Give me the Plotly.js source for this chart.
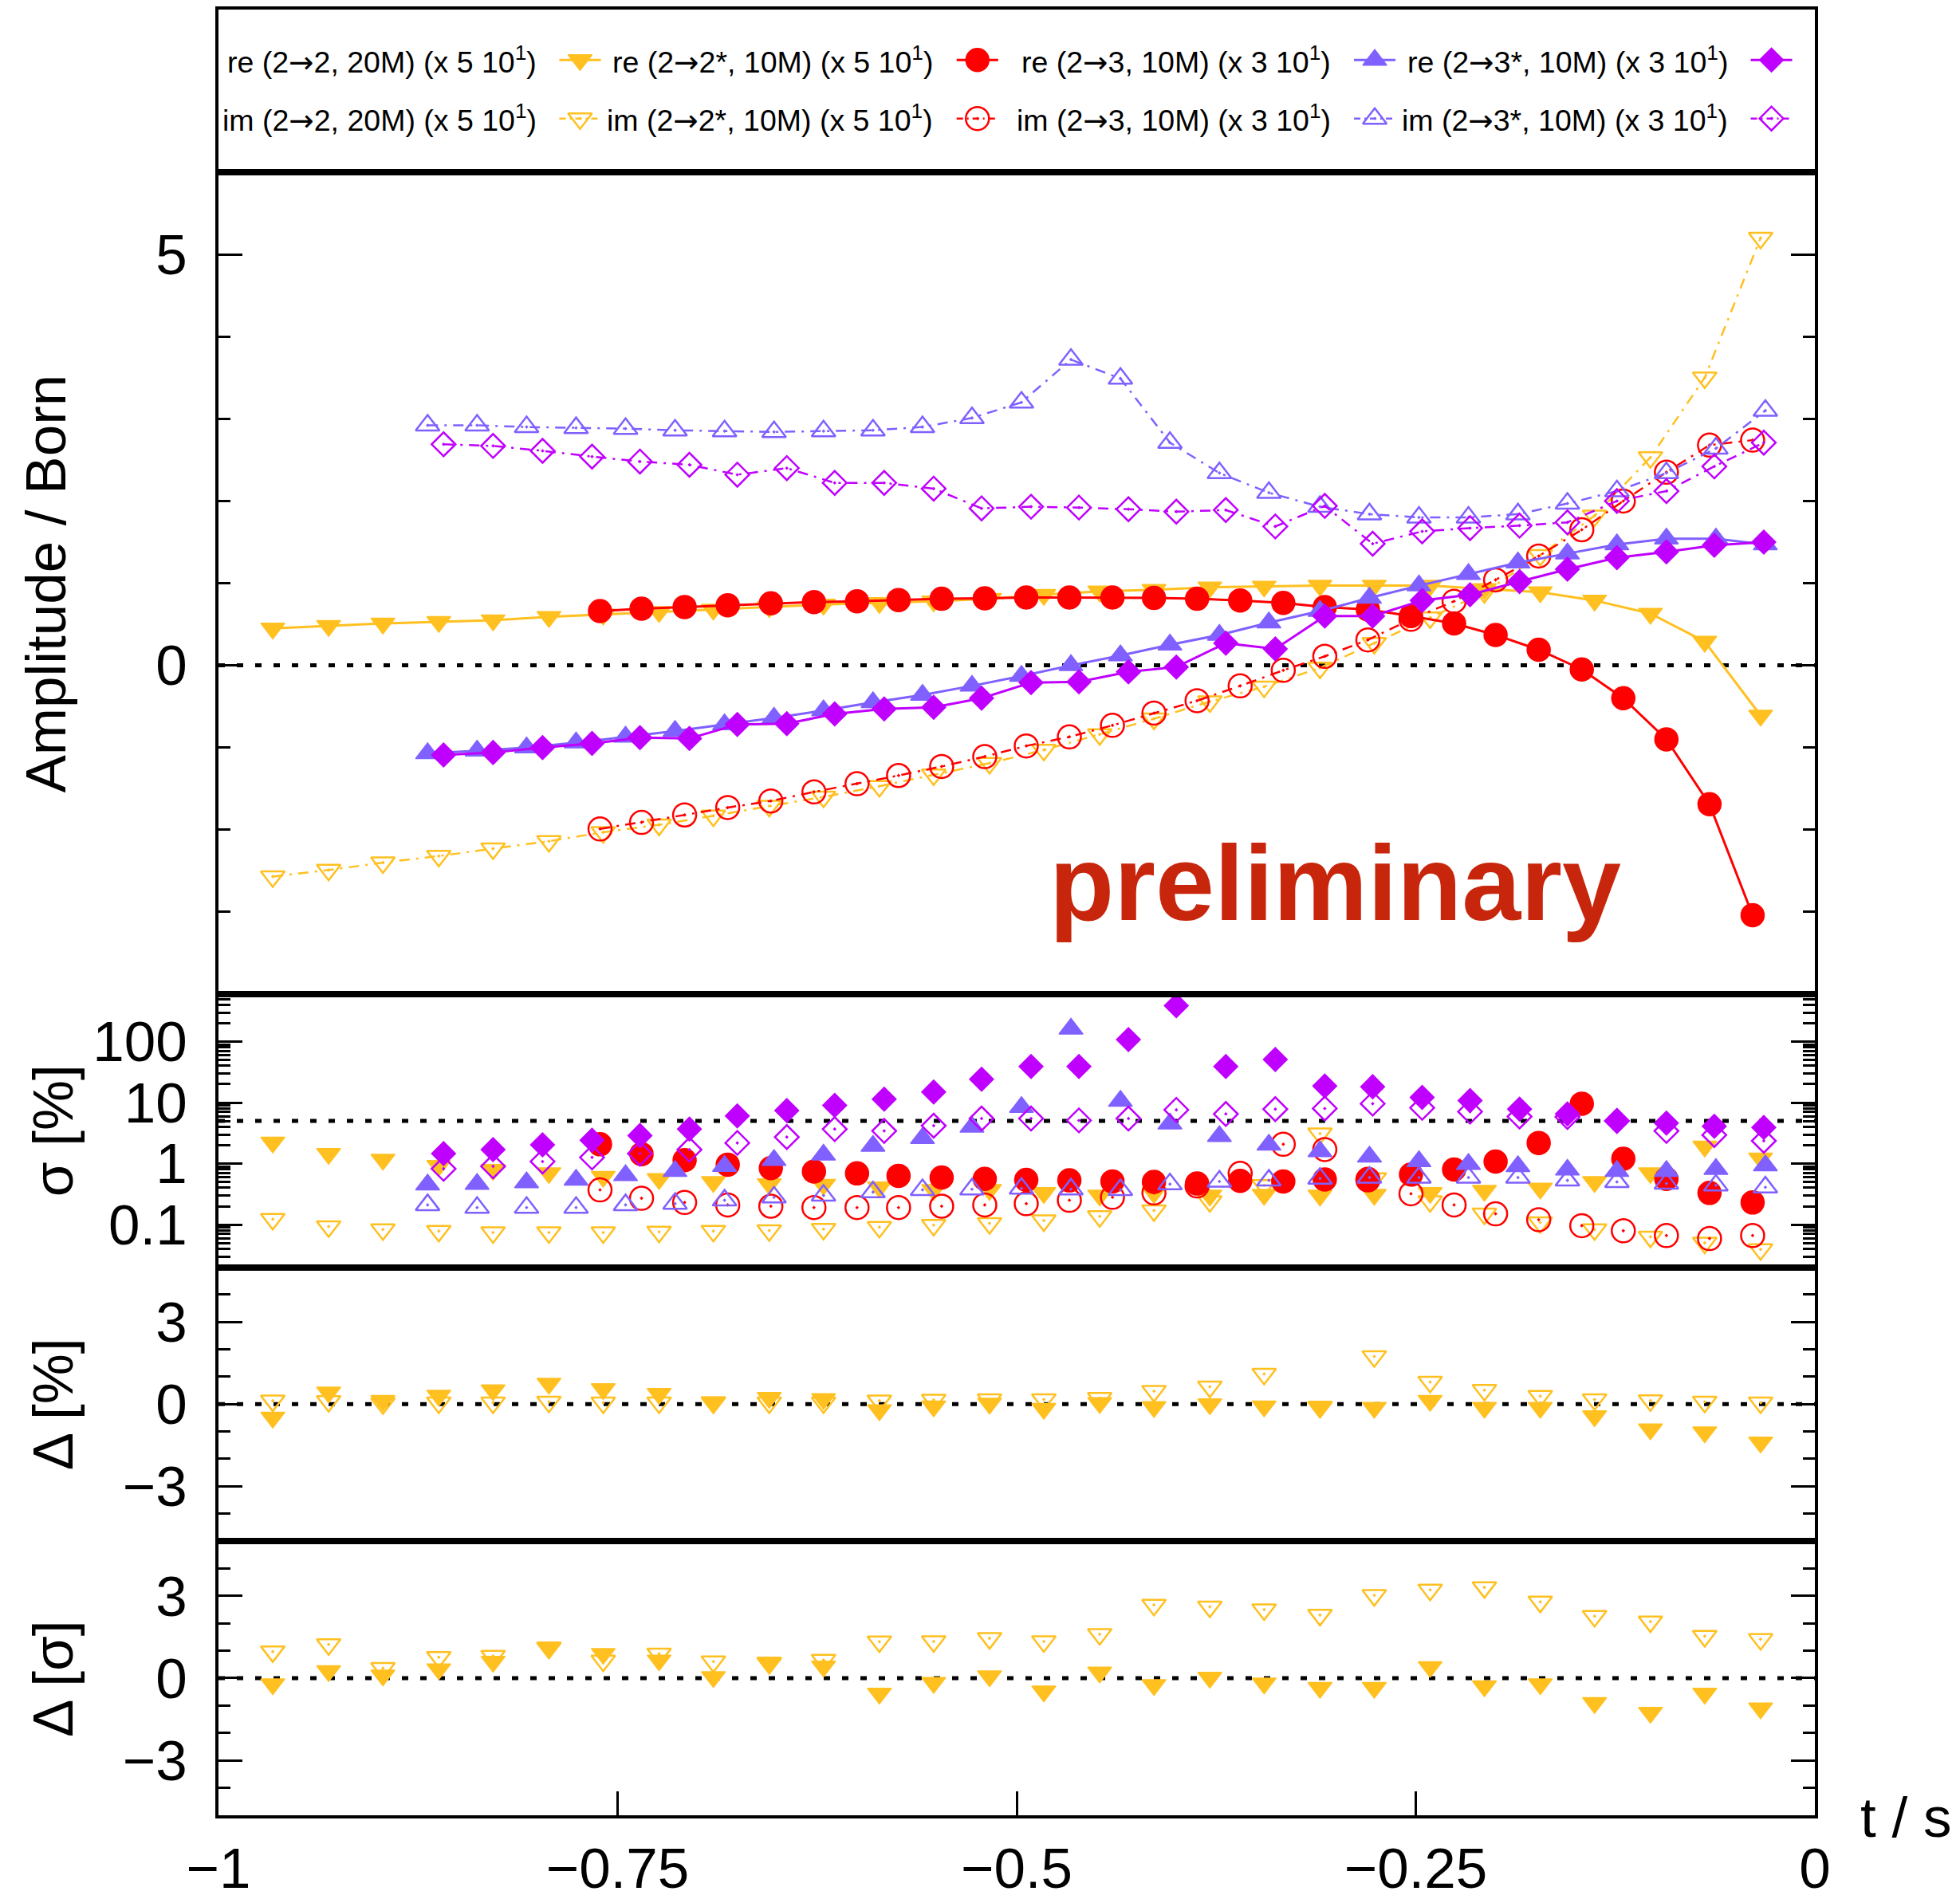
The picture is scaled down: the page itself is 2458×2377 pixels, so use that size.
<!DOCTYPE html>
<html>
<head>
<meta charset="utf-8">
<script src="https://cdn.plot.ly/plotly-3.0.1.min.js"></script>
<style>
  html, body { margin: 0; padding: 0; background: #fff; }
  #chart { width: 2458px; height: 2377px; }
</style>
</head>
<body>
<div id="chart"></div>
<script>
// ---- momentum transfer t / s of each run ----
const t22  = [-0.966, -0.931, -0.897, -0.862, -0.828, -0.793, -0.759, -0.724, -0.690, -0.655,
              -0.621, -0.586, -0.552, -0.517, -0.483, -0.448, -0.414, -0.379, -0.345, -0.310,
              -0.276, -0.241, -0.207, -0.172, -0.138, -0.103, -0.069, -0.034];
const t22s = [-0.761, -0.735, -0.708, -0.681, -0.654, -0.627, -0.600, -0.574, -0.547, -0.520,
              -0.494, -0.467, -0.440, -0.414, -0.387, -0.360, -0.333, -0.307, -0.280, -0.253,
              -0.226, -0.200, -0.173, -0.146, -0.120, -0.093, -0.066, -0.039];
const t23  = [-0.869, -0.838, -0.807, -0.776, -0.745, -0.714, -0.683, -0.652, -0.621, -0.590,
              -0.559, -0.528, -0.497, -0.466, -0.435, -0.404, -0.373, -0.342, -0.310, -0.279,
              -0.248, -0.217, -0.186, -0.155, -0.124, -0.093, -0.062, -0.031];
const t23s = [-0.859, -0.828, -0.797, -0.766, -0.736, -0.705, -0.675, -0.644, -0.614, -0.583,
              -0.552, -0.522, -0.491, -0.461, -0.430, -0.400, -0.369, -0.338, -0.307, -0.277,
              -0.246, -0.216, -0.185, -0.155, -0.124, -0.093, -0.063, -0.032];

// ---- amplitude / Born (scaled) ----
const re22  = [0.45, 0.48, 0.51, 0.53, 0.55, 0.59, 0.62, 0.65, 0.68, 0.71, 0.74, 0.76, 0.78, 0.81,
               0.86, 0.90, 0.92, 0.95, 0.96, 0.97, 0.97, 0.97, 0.93, 0.89, 0.79, 0.63, 0.29, -0.61];
const im22  = [-2.57, -2.49, -2.40, -2.32, -2.23, -2.14, -2.03, -1.94, -1.83, -1.71, -1.60, -1.47, -1.33, -1.19,
               -1.03, -0.84, -0.65, -0.44, -0.26, -0.03, 0.27, 0.58, 0.89, 1.34, 1.82, 2.53, 3.50, 5.20];
const re22s = [0.66, 0.69, 0.71, 0.73, 0.755, 0.77, 0.78, 0.795, 0.81, 0.815, 0.825, 0.825, 0.825, 0.82,
               0.81, 0.79, 0.76, 0.71, 0.68, 0.60, 0.51, 0.37, 0.19, -0.05, -0.40, -0.90, -1.69, -3.04];
const im22s = [-1.99, -1.91, -1.82, -1.73, -1.65, -1.54, -1.44, -1.34, -1.23, -1.11, -0.98, -0.87, -0.73, -0.58,
               -0.43, -0.25, -0.06, 0.11, 0.31, 0.56, 0.78, 1.04, 1.33, 1.65, 2.00, 2.35, 2.68, 2.74];
const re23  = [-1.07, -1.04, -1.00, -0.94, -0.87, -0.80, -0.72, -0.64, -0.55, -0.45, -0.36, -0.25, -0.13, 0.00,
               0.12, 0.25, 0.37, 0.52, 0.66, 0.82, 0.97, 1.11, 1.25, 1.36, 1.47, 1.54, 1.54, 1.47];
const im23  = [2.92, 2.92, 2.90, 2.89, 2.88, 2.86, 2.85, 2.84, 2.85, 2.86, 2.90, 3.01, 3.20, 3.72,
               3.49, 2.71, 2.34, 2.10, 1.93, 1.84, 1.80, 1.80, 1.84, 1.97, 2.12, 2.34, 2.64, 3.10];
const re23s = [-1.09, -1.06, -1.00, -0.95, -0.88, -0.89, -0.72, -0.71, -0.59, -0.53, -0.51, -0.40, -0.21, -0.20,
               -0.08, -0.02, 0.27, 0.20, 0.60, 0.60, 0.79, 0.86, 1.02, 1.17, 1.31, 1.38, 1.46, 1.50];
const im23s = [2.69, 2.67, 2.61, 2.54, 2.48, 2.44, 2.32, 2.40, 2.22, 2.22, 2.15, 1.91, 1.93, 1.92,
               1.90, 1.87, 1.89, 1.69, 1.94, 1.48, 1.63, 1.67, 1.70, 1.74, 2.00, 2.12, 2.42, 2.71];

// ---- relative MC error sigma [%] ----
const sRe22  = [2.22, 1.45, 1.16, 0.92, 0.79, 0.70, 0.61, 0.56, 0.50, 0.46, 0.45, 0.41, 0.37, 0.37,
                0.33, 0.30, 0.33, 0.30, 0.31, 0.30, 0.31, 0.33, 0.36, 0.39, 0.50, 0.70, 1.91, 1.22];
const sIm22  = [0.123, 0.093, 0.083, 0.078, 0.074, 0.074, 0.074, 0.076, 0.078, 0.080, 0.084, 0.091, 0.098, 0.105,
                0.116, 0.136, 0.17, 0.24, 0.44, 3.09, 0.57, 0.24, 0.15, 0.108, 0.083, 0.063, 0.050, 0.039];
const sRe22s = [2.07, 1.43, 1.14, 0.96, 0.84, 0.74, 0.69, 0.63, 0.59, 0.56, 0.54, 0.53, 0.51, 0.50,
                0.47, 0.52, 0.51, 0.55, 0.56, 0.66, 0.80, 1.08, 2.18, 9.6, 1.20, 0.56, 0.33, 0.23];
const sIm22s = [0.37, 0.27, 0.23, 0.21, 0.20, 0.19, 0.19, 0.19, 0.20, 0.21, 0.22, 0.25, 0.28, 0.33,
                0.43, 0.69, 2.07, 1.70, 0.54, 0.32, 0.21, 0.15, 0.12, 0.096, 0.079, 0.066, 0.059, 0.066];
const sRe23  = [0.45, 0.46, 0.49, 0.54, 0.64, 0.75, 0.91, 1.14, 1.39, 1.94, 2.61, 4.0, 8.4, 162,
                10.6, 4.5, 2.8, 2.03, 1.58, 1.29, 1.09, 0.98, 0.90, 0.79, 0.75, 0.75, 0.81, 0.93];
const sIm23  = [0.21, 0.19, 0.19, 0.19, 0.21, 0.22, 0.25, 0.28, 0.30, 0.34, 0.37, 0.38, 0.39, 0.38,
                0.37, 0.46, 0.51, 0.53, 0.57, 0.59, 0.59, 0.59, 0.59, 0.53, 0.50, 0.47, 0.44, 0.41];
const sRe23s = [1.46, 1.69, 2.03, 2.41, 2.88, 3.67, 6.06, 7.4, 9.0, 11.4, 14.9, 24.1, 39, 39,
                108, 388, 39, 51, 18.7, 18.2, 12.2, 10.8, 7.8, 6.5, 5.0, 4.6, 4.1, 3.9];
const sIm23s = [0.82, 0.90, 1.08, 1.26, 1.46, 1.69, 2.18, 2.72, 3.67, 3.43, 4.18, 5.47, 5.47, 5.1,
                5.47, 7.6, 6.5, 7.8, 8.0, 9.6, 8.2, 7.1, 5.9, 5.8, 5.0, 3.43, 2.94, 2.36];

// ---- deviation of the 2->2 (20M) run: in percent and in units of sigma ----
const dPctRe = [-0.49, 0.43, 0.12, 0.31, 0.51, 0.75, 0.55, 0.38, 0.07, 0.23, 0.19, -0.22, -0.08, 0.02,
                -0.17, 0.04, -0.10, 0.00, -0.08, -0.13, -0.13, 0.12, -0.13, -0.13, -0.44, -0.92, -1.03, -1.40];
const dPctIm = [0.12, 0.10, 0.02, 0.05, 0.05, 0.08, 0.05, 0.05, 0.05, 0.05, 0.05, 0.12, 0.15, 0.17,
                0.17, 0.22, 0.47, 0.63, 1.10, -0.10, 1.74, 0.81, 0.51, 0.29, 0.17, 0.13, 0.08, 0.05];
const dSigRe = [-0.22, 0.26, 0.10, 0.33, 0.60, 1.08, 0.89, 0.65, 0.04, 0.52, 0.43, -0.56, -0.17, 0.07,
                -0.48, 0.21, -0.25, 0.02, -0.19, -0.35, -0.35, 0.41, -0.29, -0.22, -0.90, -1.26, -0.56, -1.10];
const dSigIm = [0.97, 1.23, 0.36, 0.76, 0.81, 1.11, 0.63, 0.89, 0.60, 0.56, 0.66, 1.33, 1.34, 1.45,
                1.34, 1.60, 2.67, 2.60, 2.50, 2.30, 3.02, 3.22, 3.31, 2.78, 2.26, 2.06, 1.53, 1.42];

// ---- series labels ----
const ARROW = '<span style="font-family:DejaVu Sans">→</span>';
const labels = {
  re22:  're (2' + ARROW + '2, 20M) (x 5 10<sup>1</sup>)',
  re22s: 're (2' + ARROW + '2*, 10M) (x 5 10<sup>1</sup>)',
  re23:  're (2' + ARROW + '3, 10M) (x 3 10<sup>1</sup>)',
  re23s: 're (2' + ARROW + '3*, 10M) (x 3 10<sup>1</sup>)',
  im22:  'im (2' + ARROW + '2, 20M) (x 5 10<sup>1</sup>)',
  im22s: 'im (2' + ARROW + '2*, 10M) (x 5 10<sup>1</sup>)',
  im23:  'im (2' + ARROW + '3, 10M) (x 3 10<sup>1</sup>)',
  im23s: 'im (2' + ARROW + '3*, 10M) (x 3 10<sup>1</sup>)'
};
const xTicks = [-1, -0.75, -0.5, -0.25, 0];

// ---- styles ----
const FONT = 'Liberation Sans, Arial, Helvetica, sans-serif';
const GOLD = '#ffc020', RED = '#ff0000', SLATE = '#8060ff', MAG = '#c000ff';
const DASH = '13px,8px,3px,8px';
const style = {
  re22:  {color: GOLD,  symbol: 'triangle-down',           size: 26, open: false},
  im22:  {color: GOLD,  symbol: 'triangle-down-open-dot',  size: 26, open: true},
  re22s: {color: RED,   symbol: 'circle',                  size: 29, open: false},
  im22s: {color: RED,   symbol: 'circle-open-dot',         size: 29, open: true},
  re23:  {color: SLATE, symbol: 'triangle-up',             size: 26, open: false},
  im23:  {color: SLATE, symbol: 'triangle-up-open-dot',    size: 26, open: true},
  re23s: {color: MAG,   symbol: 'diamond',                 size: 23, open: false},
  im23s: {color: MAG,   symbol: 'diamond-open-dot',        size: 23, open: true}
};

function trace(key, x, y, xa, ya, withLine) {
  const s = style[key];
  const tr = {
    type: 'scatter', x: x, y: y, xaxis: xa, yaxis: ya,
    name: labels[key], showlegend: false, hoverinfo: 'x+y',
    mode: withLine ? 'lines+markers' : 'markers',
    marker: {symbol: s.symbol, size: s.size, color: s.color,
             line: {color: s.color, width: s.open ? 2.5 : 1.5}},
    cliponaxis: true
  };
  if (withLine) tr.line = {color: s.color, width: s.open ? 2.5 : 3, dash: s.open ? DASH : 'solid'};
  return tr;
}

const data = [];
// main panel: amplitudes
data.push(trace('re22',  t22,  re22,  'x4', 'y4', true));
data.push(trace('im22',  t22,  im22,  'x4', 'y4', true));
data.push(trace('re22s', t22s, re22s, 'x4', 'y4', true));
data.push(trace('im22s', t22s, im22s, 'x4', 'y4', true));
data.push(trace('re23',  t23,  re23,  'x4', 'y4', true));
data.push(trace('im23',  t23,  im23,  'x4', 'y4', true));
data.push(trace('re23s', t23s, re23s, 'x4', 'y4', true));
data.push(trace('im23s', t23s, im23s, 'x4', 'y4', true));
// sigma panel
data.push(trace('re22',  t22,  sRe22,  'x3', 'y3', false));
data.push(trace('im22',  t22,  sIm22,  'x3', 'y3', false));
data.push(trace('re22s', t22s, sRe22s, 'x3', 'y3', false));
data.push(trace('im22s', t22s, sIm22s, 'x3', 'y3', false));
data.push(trace('re23',  t23,  sRe23,  'x3', 'y3', false));
data.push(trace('im23',  t23,  sIm23,  'x3', 'y3', false));
data.push(trace('re23s', t23s, sRe23s, 'x3', 'y3', false));
data.push(trace('im23s', t23s, sIm23s, 'x3', 'y3', false));
// deviation panels
data.push(trace('re22', t22, dPctRe, 'x2', 'y2', false));
data.push(trace('im22', t22, dPctIm, 'x2', 'y2', false));
data.push(trace('re22', t22, dSigRe, 'x',  'y',  false));
data.push(trace('im22', t22, dSigIm, 'x',  'y',  false));

// ---- key box (text left of the sample, gnuplot style) ----
const keyOrder = [['re22', 're22s', 're23', 're23s'], ['im22', 'im22s', 'im23', 'im23s']];
const keySample = [0.2265, 0.4754, 0.7243, 0.9728];   // sample centres, fraction of width
const keyTextEnd = [0.2003, 0.4486, 0.6978, 0.9466];  // right edge of each label
const keyRow = [0.69, 0.33];                          // row centres inside the box
const keyHalf = 0.013;
const annotations = [];
keyOrder.forEach((row, r) => {
  row.forEach((key, c) => {
    const s = style[key];
    const cx = keySample[c];
    data.push({
      type: 'scatter', xaxis: 'x5', yaxis: 'y5', showlegend: false, hoverinfo: 'skip',
      x: [cx - keyHalf, cx, cx + keyHalf], y: [keyRow[r], keyRow[r], keyRow[r]],
      mode: 'lines+markers',
      line: {color: s.color, width: s.open ? 2.5 : 3, dash: s.open ? '8px,5px,2px,5px' : 'solid'},
      marker: {symbol: s.symbol, size: s.size, color: s.color, opacity: [0, 1, 0],
               line: {color: s.color, width: s.open ? 2.5 : 1.5}}
    });
    annotations.push({
      xref: 'x5', yref: 'y5', x: keyTextEnd[c], y: keyRow[r],
      xanchor: 'right', yanchor: 'middle', showarrow: false,
      text: labels[key], font: {family: FONT, size: 37.5, color: '#000'}
    });
  });
});

// axis titles and labels
const titleFont = {family: FONT, size: 71, color: '#000'};
annotations.push({xref: 'paper', yref: 'paper', x: -0.1079, y: 0.6823, textangle: -90,
  xanchor: 'center', yanchor: 'middle', showarrow: false, text: 'Amplitude / Born', font: titleFont});
annotations.push({xref: 'paper', yref: 'paper', x: -0.1039, y: 0.3791, textangle: -90,
  xanchor: 'center', yanchor: 'middle', showarrow: false, text: 'σ [%]', font: titleFont});
annotations.push({xref: 'paper', yref: 'paper', x: -0.1039, y: 0.2277, textangle: -90,
  xanchor: 'center', yanchor: 'middle', showarrow: false, text: 'Δ [%]', font: titleFont});
annotations.push({xref: 'paper', yref: 'paper', x: -0.1039, y: 0.0759, textangle: -90,
  xanchor: 'center', yanchor: 'middle', showarrow: false, text: 'Δ [σ]', font: titleFont});
annotations.push({xref: 'paper', yref: 'paper', x: 1.057, y: -0.001,
  xanchor: 'center', yanchor: 'middle', showarrow: false, text: 't / s', font: titleFont});
annotations.push({xref: 'paper', yref: 'paper', x: 0.6995, y: 0.5161,
  xanchor: 'center', yanchor: 'middle', showarrow: false, text: '<b>preliminary</b>',
  font: {family: FONT, size: 133, color: '#c8260c'}});

// ---- axes ----
const frame = {showline: true, linewidth: 4, linecolor: '#000', showgrid: false, zeroline: false,
               fixedrange: true, tickfont: {family: FONT, size: 71, color: '#000'}};
const hidden = Object.assign({}, frame, {mirror: true, ticks: '', showticklabels: false,
                                         range: [-1, 0], domain: [0, 1]});
function yLin(domain, range, tickvals) {
  return Object.assign({}, frame, {
    domain: domain, range: range, mirror: 'ticks', ticks: 'inside', ticklen: 30, tickwidth: 3,
    tickcolor: '#000', tickmode: 'array', tickvals: tickvals, ticklabelstandoff: 21,
    minor: {tickmode: 'linear', tick0: 0, dtick: 1, ticks: 'inside', ticklen: 15, tickwidth: 3, tickcolor: '#000'}
  });
}
const sigMinor = [];
[0.01, 0.1, 1, 10, 100].forEach(d => { for (let m = 2; m <= 9; m++) { const v = +(m * d).toPrecision(2); if (v > 0.02 && v < 600) sigMinor.push(v); } });

const refLine = {color: '#000', width: 5, dash: '8px,15px'};
const layout = {
  width: 2458, height: 2377,
  margin: {l: 274, r: 182, t: 12, b: 100},
  paper_bgcolor: '#fff', plot_bgcolor: '#fff',
  showlegend: false,
  font: {family: FONT, color: '#000'},
  xaxis: Object.assign({}, frame, {domain: [0, 1], range: [-1, 0], anchor: 'y', mirror: true,
    ticks: 'inside', ticklen: 30, tickwidth: 3, tickcolor: '#000', tickmode: 'array', tickvals: xTicks,
    ticklabelstandoff: 2}),
  xaxis2: Object.assign({}, hidden, {anchor: 'y2'}),
  xaxis3: Object.assign({}, hidden, {anchor: 'y3'}),
  xaxis4: Object.assign({}, hidden, {anchor: 'y4'}),
  xaxis5: Object.assign({}, hidden, {anchor: 'y5', range: [0, 1]}),
  yaxis:  Object.assign(yLin([0, 0.15188], [-5, 5], [-3, 0, 3]), {anchor: 'x'}),
  yaxis2: Object.assign(yLin([0.15188, 0.30353], [-5, 5], [-3, 0, 3]), {anchor: 'x2'}),
  yaxis3: Object.assign({}, frame, {anchor: 'x3', type: 'log', domain: [0.30353, 0.45475],
    range: [Math.log10(0.02), Math.log10(600)], mirror: 'ticks', ticks: 'inside', ticklen: 30,
    tickwidth: 3, tickcolor: '#000', tickmode: 'array', tickvals: [0.1, 1, 10, 100],
    ticktext: ['0.1', '1', '10', '100'], ticklabelstandoff: 21,
    minor: {tickmode: 'array', tickvals: sigMinor, ticks: 'inside', ticklen: 15, tickwidth: 3, tickcolor: '#000'}}),
  yaxis4: Object.assign(yLin([0.45475, 0.90993], [-4, 6], [0, 5]), {anchor: 'x4'}),
  yaxis5: Object.assign({}, frame, {anchor: 'x5', domain: [0.90993, 1], range: [0, 1], mirror: true,
    ticks: '', showticklabels: false}),
  shapes: [
    {type: 'line', layer: 'below', xref: 'x4 domain', yref: 'y4', x0: 0, x1: 1, y0: 0, y1: 0, line: refLine},
    {type: 'line', layer: 'below', xref: 'x3 domain', yref: 'y3', x0: 0, x1: 1, y0: 5, y1: 5, line: refLine},
    {type: 'line', layer: 'below', xref: 'x2 domain', yref: 'y2', x0: 0, x1: 1, y0: 0, y1: 0, line: refLine},
    {type: 'line', layer: 'below', xref: 'x domain',  yref: 'y',  x0: 0, x1: 1, y0: 0, y1: 0, line: refLine}
  ],
  annotations: annotations
};

Plotly.newPlot('chart', data, layout, {displayModeBar: false, staticPlot: true});
</script>
</body>
</html>
